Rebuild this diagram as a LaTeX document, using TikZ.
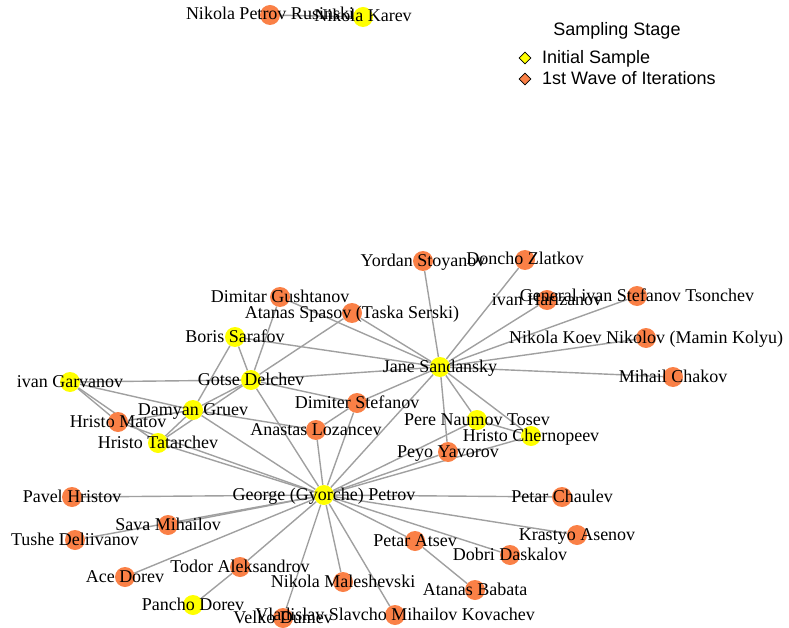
\documentclass[tikz,border=0pt]{standalone}
\usepackage{fontspec}
\setmainfont{Liberation Serif}
\newfontfamily\legendfont{Liberation Sans}
\usepackage{xcolor}
\usetikzlibrary{
    shapes.geometric,
    backgrounds
}
\definecolor{seed}{RGB}{255,255,0}
\definecolor{wave}{RGB}{250,128,70}
\definecolor{linkgray}{RGB}{160,160,160}

\begin{document}
\begin{tikzpicture}[x=1pt,y=-1pt,font=\fontsize{18}{20}\selectfont]
    \tikzstyle{vtx}=[circle, inner sep=0pt, minimum size=20pt]
    \tikzstyle{seedv}=[vtx, fill=seed]
    \tikzstyle{wavev}=[vtx, fill=wave]
    \tikzstyle{lbl}=[inner sep=0pt, text height=13pt, text depth=3pt]
    \tikzstyle{link}=[draw=linkgray, line width=1.4pt]
    \tikzstyle{legmark}=[diamond, draw=black, line width=0.8pt, inner sep=0pt, minimum size=12pt]
    \tikzstyle{legtext}=[font=\legendfont\fontsize{18}{20}\selectfont, inner sep=0pt, text height=13pt, text depth=2pt]
    \useasboundingbox (0,0) rectangle (789,628);

    % vertices
    \node[wavev] (rus) at (270,15){};
    \node[seedv] (kar) at (363,17){};
    \node[wavev] (yor) at (423,261){};
    \node[wavev] (don) at (525,260){};
    \node[wavev] (har) at (547,300){};
    \node[wavev] (gen) at (637,296){};
    \node[wavev] (koe) at (646,338){};
    \node[wavev] (cha) at (673,377){};
    \node[seedv] (jane) at (440,367){};
    \node[wavev] (gus) at (280,297){};
    \node[wavev] (spa) at (352,313){};
    \node[seedv] (bor) at (235,337){};
    \node[seedv] (got) at (251,380){};
    \node[seedv] (gar) at (70,382){};
    \node[seedv] (dam) at (193,410){};
    \node[wavev] (mat) at (118,422){};
    \node[seedv] (tat) at (158,443){};
    \node[wavev] (ste) at (357,403){};
    \node[wavev] (loz) at (316,430){};
    \node[seedv] (per) at (477,420){};
    \node[seedv] (che) at (531,436){};
    \node[wavev] (yav) at (448,452){};
    \node[seedv] (geo) at (324,495){};
    \node[wavev] (pav) at (72,497){};
    \node[wavev] (chl) at (562,497){};
    \node[wavev] (sav) at (168,525){};
    \node[wavev] (tus) at (75,540){};
    \node[wavev] (kra) at (577,535){};
    \node[wavev] (ats) at (415,541){};
    \node[wavev] (dob) at (510,555){};
    \node[wavev] (tod) at (240,567){};
    \node[wavev] (ace) at (125,577){};
    \node[wavev] (mal) at (343,582){};
    \node[wavev] (bab) at (475,590){};
    \node[seedv] (pan) at (193,605){};
    \node[wavev] (vel) at (283,618){};
    \node[wavev] (vla) at (395,615){};

    % names
    \node[lbl] (rus-t) at (rus){Nikola Petrov Rusinski};
    \node[lbl] (kar-t) at (kar){Nikola Karev};
    \node[lbl] (yor-t) at (yor){Yordan Stoyanov};
    \node[lbl] (don-t) at (don){Doncho Zlatkov};
    \node[lbl] (har-t) at (har){ivan Harizanov};
    \node[lbl] (gen-t) at (gen){General ivan Stefanov Tsonchev};
    \node[lbl] (koe-t) at (koe){Nikola Koev Nikolov (Mamin Kolyu)};
    \node[lbl] (cha-t) at (cha){Mihail Chakov};
    \node[lbl] (jane-t) at (jane){Jane Sandansky};
    \node[lbl] (gus-t) at (gus){Dimitar Gushtanov};
    \node[lbl] (spa-t) at (spa){Atanas Spasov (Taska Serski)};
    \node[lbl] (bor-t) at (bor){Boris Sarafov};
    \node[lbl] (got-t) at (got){Gotse Delchev};
    \node[lbl] (gar-t) at (gar){ivan Garvanov};
    \node[lbl] (dam-t) at (dam){Damyan Gruev};
    \node[lbl] (mat-t) at (mat){Hristo Matov};
    \node[lbl] (tat-t) at (tat){Hristo Tatarchev};
    \node[lbl] (ste-t) at (ste){Dimiter Stefanov};
    \node[lbl] (loz-t) at (loz){Anastas Lozancev};
    \node[lbl] (per-t) at (per){Pere Naumov Tosev};
    \node[lbl] (che-t) at (che){Hristo Chernopeev};
    \node[lbl] (yav-t) at (yav){Peyo Yavorov};
    \node[lbl] (geo-t) at (geo){George (Gyorche) Petrov};
    \node[lbl] (pav-t) at (pav){Pavel Hristov};
    \node[lbl] (chl-t) at (chl){Petar Chaulev};
    \node[lbl] (sav-t) at (sav){Sava Mihailov};
    \node[lbl] (tus-t) at (tus){Tushe Deliivanov};
    \node[lbl] (kra-t) at (kra){Krastyo Asenov};
    \node[lbl] (ats-t) at (ats){Petar Atsev};
    \node[lbl] (dob-t) at (dob){Dobri Daskalov};
    \node[lbl] (tod-t) at (tod){Todor Aleksandrov};
    \node[lbl] (ace-t) at (ace){Ace Dorev};
    \node[lbl] (mal-t) at (mal){Nikola Maleshevski};
    \node[lbl] (bab-t) at (bab){Atanas Babata};
    \node[lbl] (pan-t) at (pan){Pancho Dorev};
    \node[lbl] (vel-t) at (vel){Velko Dumev};
    \node[lbl] (vla-t) at (vla){Vladislav Slavcho Mihailov Kovachev};

    % ties
    \begin{scope}[on background layer]
    \path[link] (rus) edge (kar);
    \path[link] (jane) edge (yor) edge (don) edge (har) edge (gen) edge (koe) edge (cha)
        edge (gus) edge (spa) edge (bor) edge (got) edge (ste) edge (geo)
        edge (per) edge (yav) edge (che);
    \path[link] (got) edge (gus) edge (spa) edge (bor) edge (gar) edge (dam)
        edge (tat) edge (ste) edge (geo);
    \path[link] (bor) edge (dam);
    \path[link] (gar) edge (dam) edge (mat) edge (tat);
    \path[link] (mat) edge (dam) edge (geo);
    \path[link] (tat) edge (dam) edge (geo);
    \path[link] (dam) edge (loz) edge (geo);
    \path[link] (ste) edge (loz) edge (geo);
    \path[link] (loz) edge (geo);
    \path[link] (per) edge (che) edge (geo);
    \path[link] (geo) edge (yav) edge (che) edge (pav) edge (sav) edge (tus) edge (ace)
        edge (tod) edge (vel) edge (mal) edge (vla) edge (ats) edge (dob)
        edge (kra) edge (chl);
    \path[link] (tod) edge (pan);
    \path[link] (ats) edge (bab);
    \end{scope}

    % legend
    \node[legtext] (leg) at (617,30){Sampling Stage};
    \node[legmark, fill=seed] (leg-a) at (525,58){};
    \node[legmark, fill=wave] (leg-b) at (525,79){};
    \node[legtext, anchor=west] (leg-a-t) at (542,58){Initial Sample};
    \node[legtext, anchor=west] (leg-b-t) at (542,79){1st Wave of Iterations};
\end{tikzpicture}
\end{document}
